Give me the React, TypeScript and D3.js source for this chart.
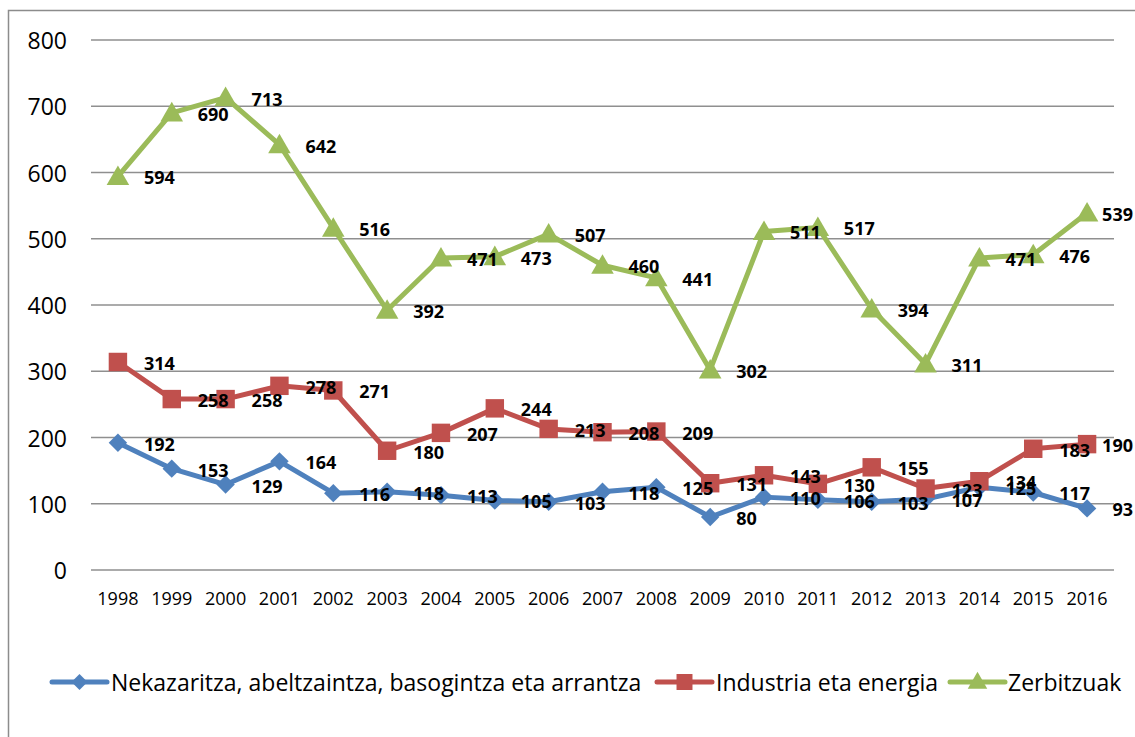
import React from "react";
import * as d3 from "d3";

const years = ["1998","1999","2000","2001","2002","2003","2004","2005","2006","2007","2008","2009","2010","2011","2012","2013","2014","2015","2016"];
const nekazaritza = [192,153,129,164,116,118,113,105,103,118,125,80,110,106,103,107,125,117,93];
const industria = [314,258,258,278,271,180,207,244,213,208,209,131,143,130,155,123,134,183,190];
const zerbitzuak = [594,690,713,642,516,392,471,473,507,460,441,302,511,517,394,311,471,476,539];
const yTicks = [0,100,200,300,400,500,600,700,800];
const seriesNames = ["Nekazaritza, abeltzaintza, basogintza eta arrantza","Industria eta energia","Zerbitzuak"];

const W = 1135, H = 737;
const FONT = "'Open Sans', 'Noto Sans', sans-serif";
const colors = ["#4F81BD", "#C0504D", "#9BBB59"];

const diamond = {
  draw(ctx: any, size: number) {
    const r = Math.sqrt(size / 2);
    ctx.moveTo(0, -r);
    ctx.lineTo(r, 0);
    ctx.lineTo(0, r);
    ctx.lineTo(-r, 0);
    ctx.closePath();
  },
};
const shapes: any[] = [diamond, d3.symbolSquare, d3.symbolTriangle];

const series = [
  { name: seriesNames[0], values: nekazaritza, color: colors[0], shape: shapes[0], size: 170, dy: 0 },
  { name: seriesNames[1], values: industria, color: colors[1], shape: shapes[1], size: 340, dy: 0 },
  { name: seriesNames[2], values: zerbitzuak, color: colors[2], shape: shapes[2], size: 220, dy: 2 },
];

export default function App() {
  const x = d3.scalePoint<string>().domain(years).range([91, 1114]).padding(0.5);
  const y = d3.scaleLinear().domain([0, 800]).range([570, 40]);
  const line = d3.line<number>().x((_, i) => x(years[i]) as number).y((d) => y(d));
  const labelSize = 18;
  const labelW = (s: string) => s.length * 0.572 * labelSize;

  const legendItems = [
    { lx: 52, tx: 111 },
    { lx: 657, tx: 716 },
    { lx: 950, tx: 1008 },
  ];

  return (
    <svg width={W} height={H} style={{ position: "absolute", left: 0, top: 0, background: "#fff" }} fontFamily={FONT}>
      <rect x={0} y={0} width={W} height={H} fill="#fff" />
      <path d={`M8.5,${H} V10.5 H${W}`} fill="none" stroke="#8c8c8c" strokeWidth={1.5} />
      {yTicks.map((t) => (
        <g key={t}>
          <line x1={91} x2={1114} y1={y(t)} y2={y(t)} stroke="#8f8f8f" strokeWidth={1.6} />
          <text x={67} y={y(t)} textAnchor="end" dominantBaseline="central" fontSize={23} fill="#000">{t}</text>
        </g>
      ))}
      {years.map((yr) => (
        <text key={yr} x={x(yr)} y={598} textAnchor="middle" dominantBaseline="central" fontSize={18} fill="#000">{yr}</text>
      ))}
      {series.map((s) => (
        <g key={s.name}>
          <path d={line(s.values) || ""} fill="none" stroke={s.color} strokeWidth={5} strokeLinejoin="round" strokeLinecap="round" />
          {s.values.map((v, i) => (
            <path key={i} d={d3.symbol().type(s.shape).size(s.size)() || ""}
              transform={`translate(${x(years[i])},${y(v) + s.dy})`} fill={s.color} />
          ))}
        </g>
      ))}
      {series.map((s) => (
        <g key={s.name + "-lab"}>
          {s.values.map((v, i) => {
            const str = String(v);
            let lx = (x(years[i]) as number) + 26;
            if (lx + labelW(str) > 1133) lx = 1133 - labelW(str);
            return (
              <text key={i} x={lx} y={y(v) + 1} dominantBaseline="central" fontSize={labelSize} fontWeight="bold" fill="#000">{str}</text>
            );
          })}
        </g>
      ))}
      {series.map((s, i) => {
        const it = legendItems[i];
        return (
          <g key={s.name + "-leg"}>
            <line x1={it.lx} x2={it.lx + 55} y1={682} y2={682} stroke={s.color} strokeWidth={5} strokeLinecap="round" />
            <path d={d3.symbol().type(s.shape).size(s.size * 0.75)() || ""} transform={`translate(${it.lx + 27.5},${682 + s.dy / 2})`} fill={s.color} />
            <text x={it.tx} y={682} dominantBaseline="central" fontSize={23} fill="#000">{s.name}</text>
          </g>
        );
      })}
    </svg>
  );
}
